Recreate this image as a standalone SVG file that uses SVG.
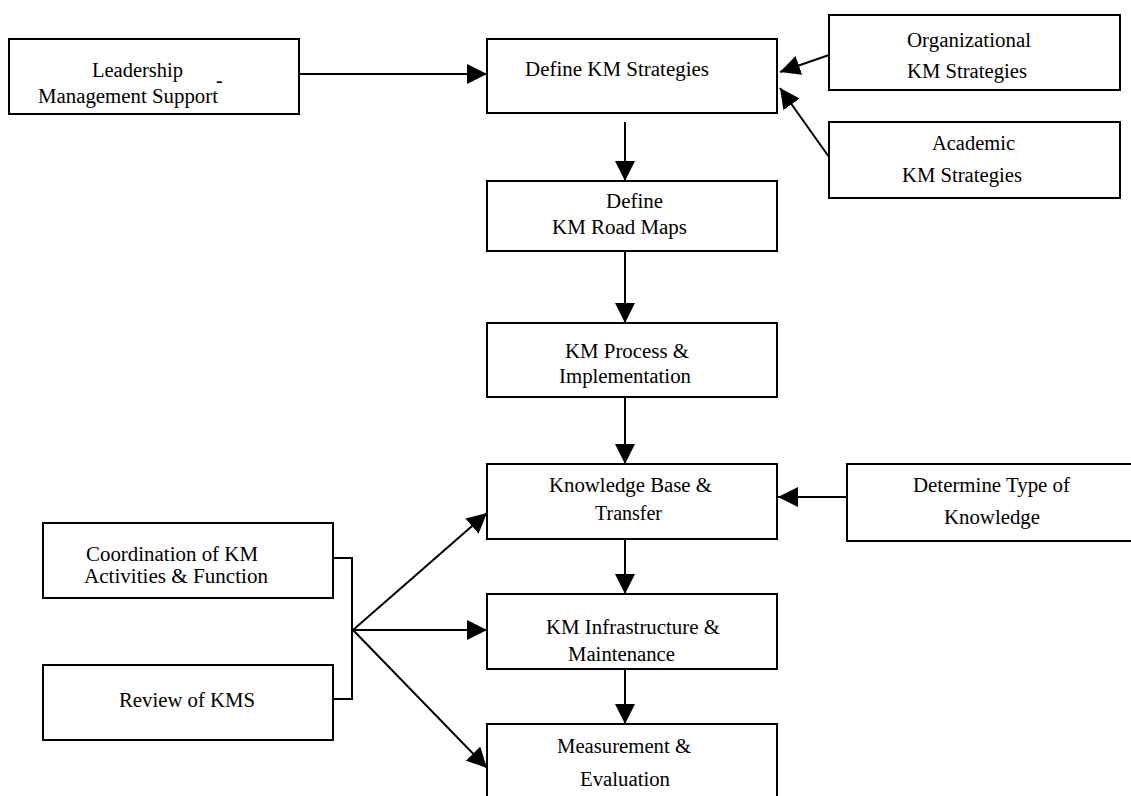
<svg xmlns="http://www.w3.org/2000/svg" width="1131" height="796" viewBox="0 0 1131 796">
<style>
.box{fill:#fff;stroke:#000;stroke-width:2}
.t{font-family:'Liberation Serif','DejaVu Serif',serif;font-size:20px;fill:#000}
.c{fill:none;stroke:#000;stroke-width:2}
</style>
<defs>
<marker id="ah" markerUnits="userSpaceOnUse" markerWidth="22" markerHeight="20" refX="20" refY="10" orient="auto">
<path d="M0,0 L20,10 L0,20 Z" fill="#000"/>
</marker>
</defs>
<rect width="1131" height="796" fill="#fff"/>
<g id="connectors">
<line class="c" x1="299" y1="74" x2="487" y2="74" marker-end="url(#ah)"/>
<line class="c" x1="829" y1="55" x2="780" y2="72" marker-end="url(#ah)"/>
<line class="c" x1="829" y1="157" x2="780" y2="88" marker-end="url(#ah)"/>
<line class="c" x1="625" y1="122" x2="625" y2="181" marker-end="url(#ah)"/>
<line class="c" x1="625" y1="251" x2="625" y2="323" marker-end="url(#ah)"/>
<line class="c" x1="625" y1="397" x2="625" y2="464" marker-end="url(#ah)"/>
<line class="c" x1="625" y1="535" x2="625" y2="594" marker-end="url(#ah)"/>
<line class="c" x1="625" y1="665" x2="625" y2="724" marker-end="url(#ah)"/>
<line class="c" x1="847" y1="497" x2="778" y2="497" marker-end="url(#ah)"/>
<polyline class="c" points="333,558 352,558 352,699 333,699"/>
<line class="c" x1="353" y1="630" x2="487" y2="513" marker-end="url(#ah)"/>
<line class="c" x1="353" y1="630" x2="487" y2="630" marker-end="url(#ah)"/>
<line class="c" x1="353" y1="630" x2="487" y2="768" marker-end="url(#ah)"/>
</g>
<g id="leadership">
<rect class="box" x="9" y="39" width="290" height="75"/>
<text class="t" x="92" y="77" textLength="91" lengthAdjust="spacingAndGlyphs">Leadership</text>
<text class="t" x="38" y="103" textLength="180" lengthAdjust="spacingAndGlyphs">Management Support</text>
<text class="t" x="216" y="87">-</text>
</g>
<g id="define-strategies">
<rect class="box" x="487" y="39" width="290" height="74"/>
<text class="t" x="525" y="76" textLength="184" lengthAdjust="spacingAndGlyphs">Define KM Strategies</text>
</g>
<g id="organizational">
<rect class="box" x="829" y="15" width="291" height="75"/>
<text class="t" x="907" y="47" textLength="124" lengthAdjust="spacingAndGlyphs">Organizational</text>
<text class="t" x="907" y="78" textLength="120" lengthAdjust="spacingAndGlyphs">KM Strategies</text>
</g>
<g id="academic">
<rect class="box" x="829" y="122" width="291" height="76"/>
<text class="t" x="932" y="150" textLength="83" lengthAdjust="spacingAndGlyphs">Academic</text>
<text class="t" x="902" y="182" textLength="120" lengthAdjust="spacingAndGlyphs">KM Strategies</text>
</g>
<g id="road-maps">
<rect class="box" x="487" y="181" width="290" height="70"/>
<text class="t" x="606" y="208" textLength="57" lengthAdjust="spacingAndGlyphs">Define</text>
<text class="t" x="552" y="234" textLength="135" lengthAdjust="spacingAndGlyphs">KM Road Maps</text>
</g>
<g id="process">
<rect class="box" x="487" y="323" width="290" height="74"/>
<text class="t" x="565" y="358" textLength="124" lengthAdjust="spacingAndGlyphs">KM Process &amp;</text>
<text class="t" x="559" y="383" textLength="132" lengthAdjust="spacingAndGlyphs">Implementation</text>
</g>
<g id="knowledge-base">
<rect class="box" x="487" y="464" width="290" height="75"/>
<text class="t" x="549" y="492" textLength="163" lengthAdjust="spacingAndGlyphs">Knowledge Base &amp;</text>
<text class="t" x="595" y="520" textLength="67" lengthAdjust="spacingAndGlyphs">Transfer</text>
</g>
<g id="determine">
<rect class="box" x="847" y="464" width="290" height="77"/>
<text class="t" x="913" y="492" textLength="157" lengthAdjust="spacingAndGlyphs">Determine Type of</text>
<text class="t" x="944" y="524" textLength="96" lengthAdjust="spacingAndGlyphs">Knowledge</text>
</g>
<g id="infrastructure">
<rect class="box" x="487" y="594" width="290" height="75"/>
<text class="t" x="546" y="634" textLength="174" lengthAdjust="spacingAndGlyphs">KM Infrastructure &amp;</text>
<text class="t" x="568" y="661" textLength="107" lengthAdjust="spacingAndGlyphs">Maintenance</text>
</g>
<g id="measurement">
<rect class="box" x="487" y="724" width="290" height="80"/>
<text class="t" x="557" y="753" textLength="134" lengthAdjust="spacingAndGlyphs">Measurement &amp;</text>
<text class="t" x="580" y="786" textLength="90" lengthAdjust="spacingAndGlyphs">Evaluation</text>
</g>
<g id="coordination">
<rect class="box" x="43" y="523" width="290" height="75"/>
<text class="t" x="86" y="561" textLength="172" lengthAdjust="spacingAndGlyphs">Coordination of KM</text>
<text class="t" x="84" y="583" textLength="184" lengthAdjust="spacingAndGlyphs">Activities &amp; Function</text>
</g>
<g id="review">
<rect class="box" x="43" y="665" width="290" height="75"/>
<text class="t" x="119" y="707" textLength="136" lengthAdjust="spacingAndGlyphs">Review of KMS</text>
</g>
</svg>
